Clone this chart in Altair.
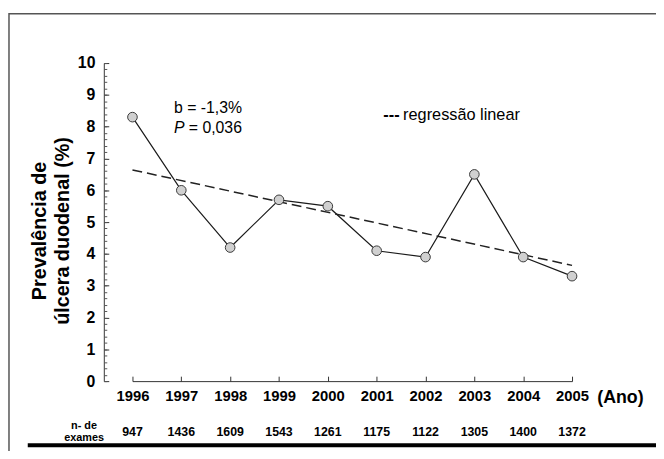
import altair as alt
import pandas as pd

# ---- data ----
years = [1996, 1997, 1998, 1999, 2000, 2001, 2002, 2003, 2004, 2005]
prevalence = [8.3, 6.0, 4.2, 5.7, 5.5, 4.1, 3.9, 6.5, 3.9, 3.3]
exams = [947, 1436, 1609, 1543, 1261, 1175, 1122, 1305, 1400, 1372]
y_ticks = list(range(0, 11))
y_minor = [round(i * 0.2, 1) for i in range(51)]
title_lines = ["Prevalência de", "úlcera duodenal (%)"]
annot_b = "b = -1,3%"
annot_p = "P"
annot_p_val = "= 0,036"
legend_dash = "---"
legend_text = "regressão linear"
x_unit = "(Ano)"
n_label = ["n- de", "exames"]

df = pd.DataFrame({"ano": years, "prev": prevalence, "n": exams})

W, H = 490, 322
FONT = "Liberation Sans"
xs = alt.Scale(domain=[1996, 2005], range=[29, 474], zero=False, nice=False)
ys = alt.Scale(domain=[0, 10], nice=False)

base = alt.Chart(df)


def txt(s, **kw):
    return alt.Chart(pd.DataFrame({"t": [s]})).mark_text(font=FONT, color="black", **kw).encode(text="t:N")


frame = alt.Chart(pd.DataFrame({"a": [0]})).mark_rect(
    filled=False, stroke="#555555", strokeWidth=1.5
).encode(x=alt.value(-96), x2=alt.value(1200), y=alt.value(-50), y2=alt.value(1200))

bottom_rule = alt.Chart(pd.DataFrame({"a": [0]})).mark_rule(
    color="black", strokeWidth=4
).encode(x=alt.value(-77), x2=alt.value(1200), y=alt.value(387))

reg = base.transform_regression("ano", "prev", extent=[1996, 2005]).mark_line(
    color="#222222", strokeWidth=1.5, strokeDash=[10, 5]
).encode(x=alt.X("ano:Q", scale=xs, axis=None), y=alt.Y("prev:Q", scale=ys, axis=None))

line = base.mark_line(color="#1a1a1a", strokeWidth=1.2).encode(
    x=alt.X("ano:Q", scale=xs, axis=alt.Axis(
        values=years, format="d", title=None, labelFont=FONT, labelFontSize=15,
        labelFontWeight="bold", labelColor="black", labelPadding=8, ticks=False,
        tickSize=0, domainColor="#333333", domainWidth=1, grid=False, labelFlush=False)),
    y=alt.Y("prev:Q", scale=ys, axis=alt.Axis(
        values=y_ticks, title=None, labelFont=FONT, labelFontSize=16,
        labelFontWeight="bold", labelColor="black", labelPadding=9, ticks=False,
        tickSize=0, domainColor="#333333", domainWidth=1, grid=False, labelFlush=False)),
)

pts = base.mark_point(shape="circle", filled=True, fill="#d0d0d0", stroke="#3a3a3a",
                      strokeWidth=1, size=95, opacity=1).encode(
    x=alt.X("ano:Q", scale=xs, axis=None), y=alt.Y("prev:Q", scale=ys, axis=None))

ticks_major = base.mark_point(opacity=0).encode(
    x=alt.X("ano:Q", scale=xs, axis=alt.Axis(
        orient="top", offset=-H, values=years, labels=False, domain=False, ticks=True,
        tickSize=5, tickColor="#333333", title=None, grid=False)),
    y=alt.Y("prev:Q", scale=ys, axis=alt.Axis(
        orient="right", offset=-W, values=y_ticks, labels=False, domain=False, ticks=True,
        tickSize=5, tickColor="#333333", title=None, grid=False)),
)
ticks_minor = base.mark_point(opacity=0).encode(
    x=alt.X("ano:Q", scale=xs, axis=None),
    y=alt.Y("prev:Q", scale=ys, axis=alt.Axis(
        orient="right", offset=-W, values=y_minor, labels=False, domain=False, ticks=True,
        tickSize=3, tickColor="#555555", title=None, grid=False)),
)

n_row = base.mark_text(font=FONT, fontSize=12.5, fontWeight="bold", color="black").encode(
    x=alt.X("ano:Q", scale=xs, axis=None), y=alt.value(374), text="n:Q")

t_title1 = txt(title_lines[0], fontSize=20, fontWeight="bold", angle=270, align="center",
               baseline="middle").encode(x=alt.value(-65), y=alt.value(170))
t_title2 = txt(title_lines[1], fontSize=20, fontWeight="bold", angle=270, align="center",
               baseline="middle").encode(x=alt.value(-41), y=alt.value(170))
t_b = txt(annot_b, fontSize=16, align="left", baseline="middle").encode(x=alt.value(71), y=alt.value(46))
t_p = txt(annot_p, fontSize=16, fontStyle="italic", align="left", baseline="middle").encode(
    x=alt.value(71), y=alt.value(66))
t_pv = txt(annot_p_val, fontSize=16, align="left", baseline="middle").encode(
    x=alt.value(86), y=alt.value(66))
t_ld = txt(legend_dash, fontSize=16.5, fontWeight="bold", align="left", baseline="middle").encode(
    x=alt.value(283), y=alt.value(53))
t_lt = txt(legend_text, fontSize=16.5, align="left", baseline="middle").encode(
    x=alt.value(303), y=alt.value(53))
t_ano = txt(x_unit, fontSize=18, fontWeight="bold", align="center", baseline="middle").encode(
    x=alt.value(523), y=alt.value(339))
t_n1 = txt(n_label[0], fontSize=11, fontWeight="bold", align="center", baseline="middle").encode(
    x=alt.value(-20), y=alt.value(367))
t_n2 = txt(n_label[1], fontSize=11, fontWeight="bold", align="center", baseline="middle").encode(
    x=alt.value(-20), y=alt.value(380))

chart = alt.layer(
    frame, bottom_rule, line, reg, pts, ticks_major, ticks_minor, n_row,
    t_title1, t_title2, t_b, t_p, t_pv, t_ld, t_lt, t_ano, t_n1, t_n2,
).resolve_axis(x="independent", y="independent").properties(
    width=W, height=H, autosize="none",
    padding={"left": 97, "top": 53, "right": 69, "bottom": 68},
    background="white",
).configure_view(stroke="transparent")

chart.save("out.html", embed_options={"renderer": "svg", "actions": False})
